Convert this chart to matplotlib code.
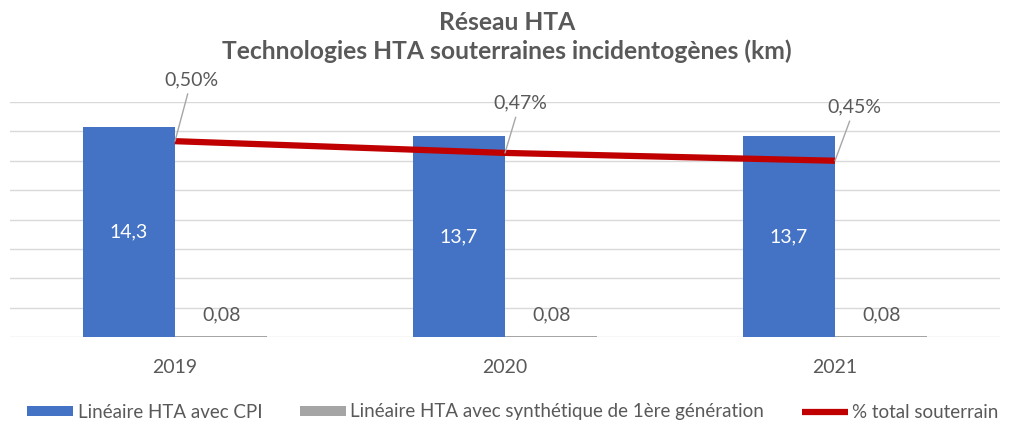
import matplotlib
matplotlib.use("Agg")
import matplotlib.pyplot as plt
import numpy as np

years = ["2019", "2020", "2021"]
cpi = [14.3, 13.7, 13.7]
synth = [0.08, 0.08, 0.08]
pct = [0.50, 0.47, 0.45]
cpi_labels = ["14,3", "13,7", "13,7"]
synth_labels = ["0,08", "0,08", "0,08"]
pct_labels = ["0,50%", "0,47%", "0,45%"]
series_names = ["Linéaire HTA avec CPI", "Linéaire HTA avec synthétique de 1ère génération", "% total souterrain"]
title_lines = ["Réseau HTA", "Technologies HTA souterraines incidentogènes (km)"]

plt.rcParams['font.family'] = ['Lato', 'DejaVu Sans']
TXT = '#595959'
BLUE = '#4472C4'
GRAY = '#A5A5A5'
RED = '#C00000'
FS = 14

fig = plt.figure(figsize=(10.14, 4.24), dpi=100)
ax = fig.add_axes([10/1014, (424-337)/424, 990/1014, 235/424])
x = np.arange(len(years))
w = 0.28
b1 = ax.bar(x - w/2, cpi, w, color=BLUE, label=series_names[0], zorder=2)
b2 = ax.bar(x + w/2, synth, w, color=GRAY, label=series_names[1], zorder=2)
ax.set_ylim(0, 16)
ax.set_yticks(np.arange(0, 17, 2))
ax.yaxis.grid(True, color='#D9D9D9', lw=1)
ax.set_axisbelow(True)
ax.set_xlim(-0.5, 2.5)
ax.set_xticks(x)
ax.set_xticklabels(years)

ax2 = ax.twinx()
ax2.set_ylim(0, 0.6)
ax2.axis('off')
for s in ax.spines.values():
    s.set_visible(False)
ax.tick_params(axis='y', left=False, right=False, labelleft=False, labelright=False)
ax.tick_params(axis='x', bottom=False, labelsize=FS, labelcolor=TXT, pad=12)

for xi, v, lab in zip(x, cpi, cpi_labels):
    ax.text(xi - w/2, v/2, lab, ha='center', va='center', color='white', fontsize=FS)
for xi, v, lab in zip(x, synth, synth_labels):
    ax.text(xi + w/2, v + 1.4, lab, ha='center', va='center', color=TXT, fontsize=FS)

ln, = ax2.plot(x, pct, color=RED, lw=4.5, solid_capstyle='butt', label=series_names[2], zorder=3)
offsets = [(0.05, 0.135), (0.045, 0.105), (0.06, 0.115)]
for xi, v, lab, (dx, dy) in zip(x, pct, pct_labels, offsets):
    ax2.annotate(lab, xy=(xi, v), xytext=(xi + dx, v + dy), ha='center', va='bottom',
                 color=TXT, fontsize=FS,
                 arrowprops=dict(arrowstyle='-', color='#A6A6A6', lw=1, shrinkA=2, shrinkB=0))

fig.text(0.5, 1 - 22/424, title_lines[0], ha='center', va='center', fontsize=17.7,
         fontweight='bold', color=TXT)
fig.text(0.5, 1 - 51/424, title_lines[1], ha='center', va='center', fontsize=17.7,
         fontweight='bold', color=TXT)

leg = fig.legend([b1, b2, ln], series_names, loc='center', bbox_to_anchor=(513/1014, 1-412/424), ncol=3,
                 frameon=False, fontsize=13.5, labelcolor=TXT, handlelength=2.45, handleheight=0.48,
                 handletextpad=0.25, columnspacing=2.0, borderaxespad=0, borderpad=0)
fig.savefig("out.png", dpi=100)
